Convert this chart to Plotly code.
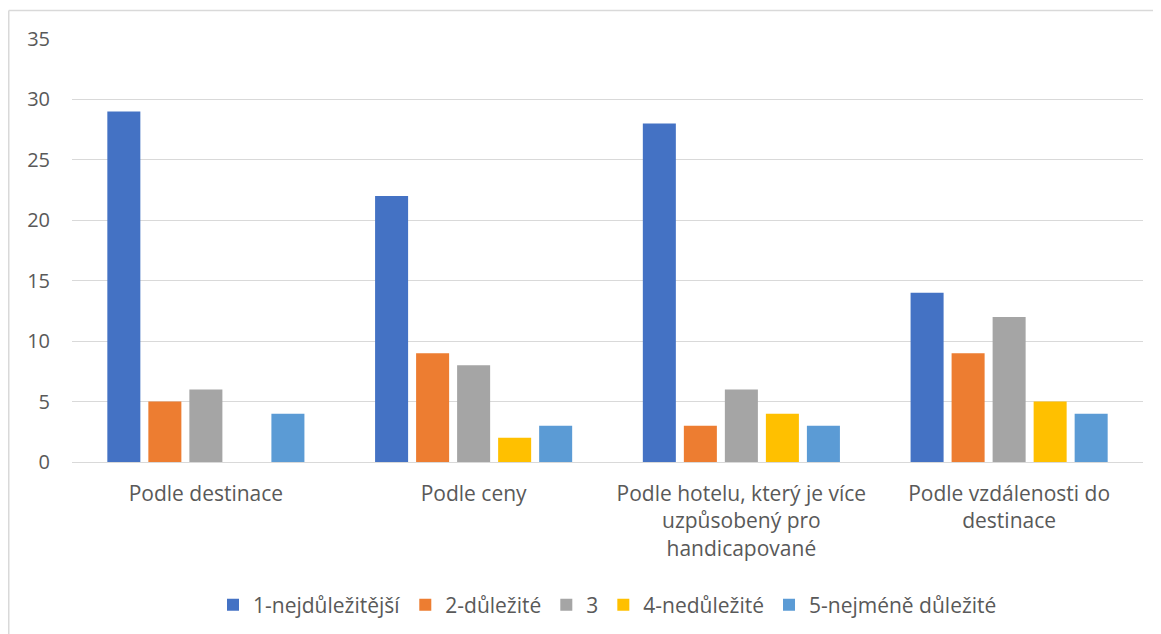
import plotly.graph_objects as go

categories = [
    "Podle destinace",
    "Podle ceny",
    "Podle hotelu, který je více<br>uzpůsobený pro<br>handicapované",
    "Podle vzdálenosti do<br>destinace",
]
series_names = ["1-nejdůležitější", "2-důležité", "3", "4-nedůležité", "5-nejméně důležité"]
s1 = [29, 22, 28, 14]
s2 = [5, 9, 3, 9]
s3 = [6, 8, 6, 12]
s4 = [0, 2, 4, 5]
s5 = [4, 3, 3, 4]
series_values = [s1, s2, s3, s4, s5]
colors = ["#4472C4", "#ED7D31", "#A5A5A5", "#FFC000", "#5B9BD5"]
y_ticks = [0, 5, 10, 15, 20, 25, 30, 35]

FONT = "Open Sans"
TXT = "#595959"

fig = go.Figure()
for name, vals, col in zip(series_names, series_values, colors):
    fig.add_trace(go.Bar(x=categories, y=vals, name=name, marker=dict(color=col, line=dict(width=0))))

OFF = 8  # default page body margin
W, H = 1161 - OFF, 634 - OFF
L, R, T, B = 72 - OFF, 18, 39 - OFF, 172
pw, ph = W - L - R, H - T - B

def px(x_page):
    return (x_page - OFF - L) / pw

def py(y_page):
    return (H - B - (y_page - OFF)) / ph

fig.update_layout(
    width=W, height=H,
    margin=dict(l=L, r=R, t=T, b=B, pad=0, autoexpand=False),
    paper_bgcolor="white", plot_bgcolor="white",
    barmode="group", bargap=0.234, bargroupgap=0.195,
    font=dict(family=FONT, size=21, color=TXT),
    showlegend=True,
    legend=dict(orientation="h", x=0.5, xanchor="center", y=py(605), yanchor="middle",
                font=dict(family=FONT, size=21, color=TXT), itemclick=False),
    xaxis=dict(showgrid=False, showline=False, ticks="", tickfont=dict(size=21, color=TXT),
               ticklabelstandoff=17, fixedrange=True, automargin=False),
    yaxis=dict(range=[0, 35], tickvals=y_ticks, showgrid=True, gridcolor="#D9D9D9", gridwidth=1,
               zeroline=True, zerolinecolor="#D9D9D9", zerolinewidth=1, showline=False, ticks="",
               tickfont=dict(size=20, color=TXT), ticklabelstandoff=21, fixedrange=True,
               automargin=False),
    shapes=[
        dict(type="line", xref="paper", yref="paper", x0=px(8.75), x1=px(8.75), y0=py(10.5), y1=py(700),
             line=dict(color="#D9D9D9", width=1.5)),
        dict(type="line", xref="paper", yref="paper", x0=px(8.75), x1=px(1200), y0=py(10.5), y1=py(10.5),
             line=dict(color="#D9D9D9", width=1.5)),
    ],
)

fig.write_html("out.html")
